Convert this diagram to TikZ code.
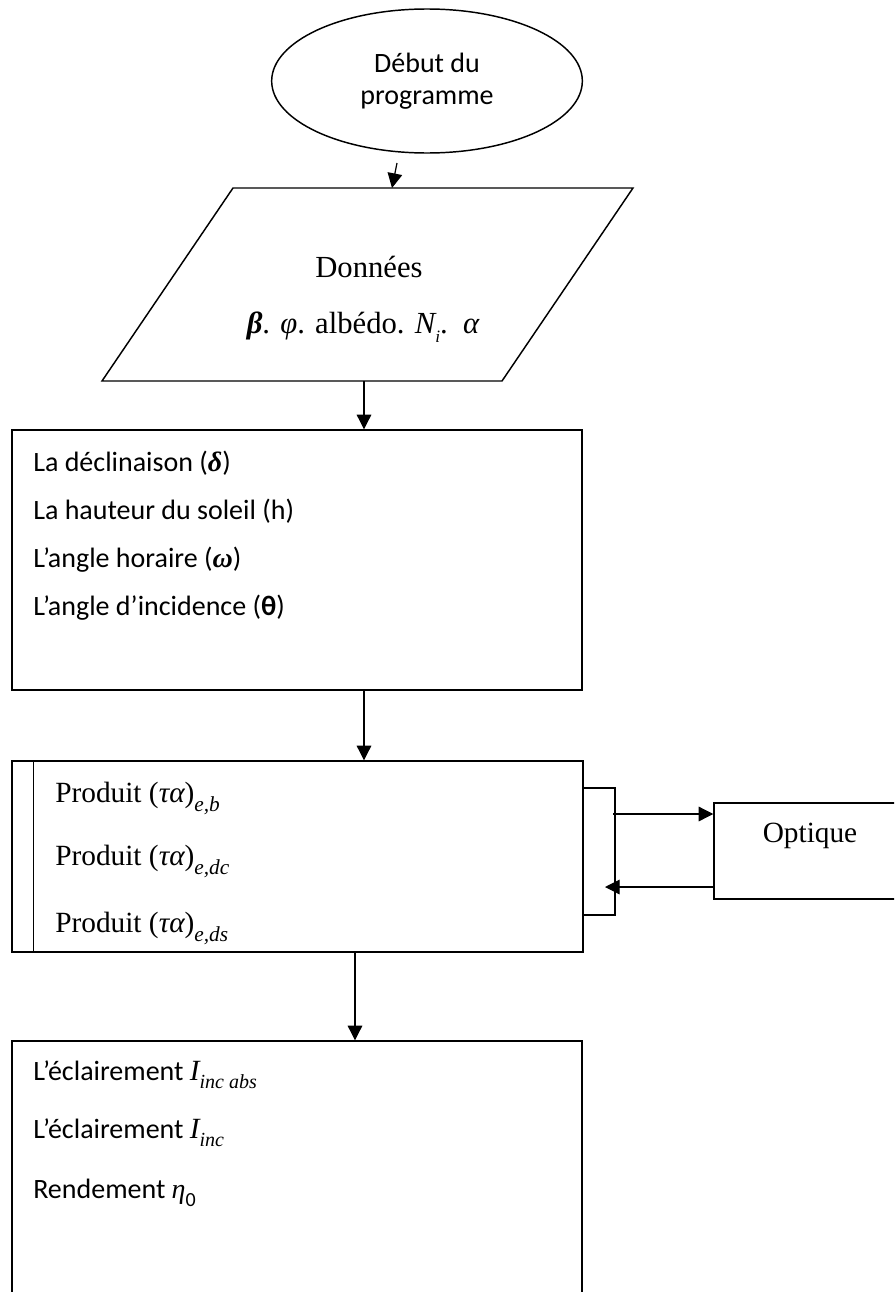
\documentclass[tikz,border=0pt]{standalone}
\usepackage{fontspec}
\setmainfont{Liberation Serif}
\newfontfamily\calib{Carlito}
\newfontfamily\mitfont{Liberation Serif}
\newcommand\mv[1]{{\mitfont\itshape #1}}
\newcommand\mb[1]{{\mitfont\bfseries\itshape #1}}
\newcommand\subs[2]{\raisebox{-0.32em}{\fontsize{#1}{#1}\selectfont #2}}
\usetikzlibrary{arrows.meta,shapes.geometric,calc}
\begin{document}
\begin{tikzpicture}[x=0.75pt,y=-0.75pt,
  line join=miter,
  box/.style={draw,line width=1.1pt,rectangle,inner sep=0pt},
  arr/.style={line width=0.9pt,-{Triangle[length=11pt,width=11pt]}},
  cal/.style={font=\calib\fontsize{21}{25}\selectfont,inner sep=0pt,anchor=base west},
  tms/.style={font=\fontsize{22}{26}\selectfont,inner sep=0pt},
  txt/.style={inner sep=0pt}]
\clip (0,0) rectangle (894,1292);
\fill[white] (0,0) rectangle (894,1292);

% start ellipse
\node[draw,ellipse,line width=1.1pt,minimum width=233pt,minimum height=108pt,inner sep=0pt,
      align=center,font=\calib\fontsize{21}{24}\selectfont] (start) at (427,81) {Début du\\programme};

% data parallelogram
\coordinate (pBL) at (102,381);
\coordinate (pTL) at (233,188);
\coordinate (pTR) at (633,188);
\coordinate (pBR) at (502,381);
\draw[line width=1.1pt] (pBL) -- (pTL) -- (pTR) -- (pBR) -- cycle;
\coordinate (dtop) at (392,188);
\coordinate (dbot) at (364,381);
\node[txt,font=\fontsize{23}{27}\selectfont,anchor=base] (dl1) at (369,277) {Données};
\node[txt,font=\fontsize{23}{27}\selectfont,anchor=base] (dl2) at (363,333)
  {\mb{β}. \mv{φ}. albédo. \mv{N}\subs{13}{\mv{i}}.\ \ \mv{α}};

\coordinate (s0) at (397,163);
\draw[arr] (s0) -- (dtop);

% box 1
\node[box,minimum width=427.5pt,minimum height=195pt] (calc) at (297,560) {};
\node[cal] (c1) at (33,471) {La déclinaison (\mb{δ})};
\node[cal] (c2) at (33,519) {La hauteur du soleil (h)};
\node[cal] (c3) at (33,567) {L’angle horaire (\mb{ω})};
\node[cal] (c4) at (33,615) {L’angle d’incidence ({\bfseries θ})};
\draw[arr] (dbot) -- (dbot |- calc.north);

% box 2
\node[box,minimum width=428.25pt,minimum height=143.25pt] (prod) at (297.5,856.5) {};
\draw[line width=1.1pt] ($(prod.north west)+(22,0)$) -- ($(prod.south west)+(22,0)$);
\node[tms,anchor=base west] (p1) at (55,802) {Produit (\mv{τα})\subs{16}{\mv{e,b}}};
\node[tms,anchor=base west] (p2) at (55,865) {Produit (\mv{τα})\subs{16}{\mv{e,dc}}};
\node[tms,anchor=base west] (p3) at (55,932) {Produit (\mv{τα})\subs{16}{\mv{e,ds}}};
\draw[arr] (dbot |- calc.south) -- (dbot |- prod.north);

% bracket
\coordinate (brT) at (615,788);
\coordinate (brB) at (615,915);
\draw[line width=1pt] (brT -| prod.east) -- (brT) -- (brB) -- (brB -| prod.east);

% optique
\node[box,minimum width=142.5pt,minimum height=72pt] (opt) at (809,851) {};
\node[tms,anchor=base] (optt) at (810,842) {Optique};
\coordinate (o1) at (613,814);
\coordinate (o2) at (605,887);
\draw[arr] (o1) -- (o1 -| opt.west);
\draw[arr] (o2 -| opt.west) -- (o2);

% box 3
\node[box,minimum width=427.5pt,minimum height=209.25pt] (res) at (297,1180.5) {};
\coordinate (x3) at (355,0);
\draw[arr] (x3 |- prod.south) -- (x3 |- res.north);
\node[cal] (r1) at (33,1080) {L’éclairement {\fontsize{22}{26}\selectfont\mv{I}}\subs{15}{\mv{inc abs}}};
\node[cal] (r2) at (33,1138) {L’éclairement {\fontsize{22}{26}\selectfont\mv{I}}\subs{15}{\mv{inc}}};
\node[cal] (r3) at (33,1198) {Rendement \mv{η}\subs{15}{0}};
\end{tikzpicture}
\end{document}
